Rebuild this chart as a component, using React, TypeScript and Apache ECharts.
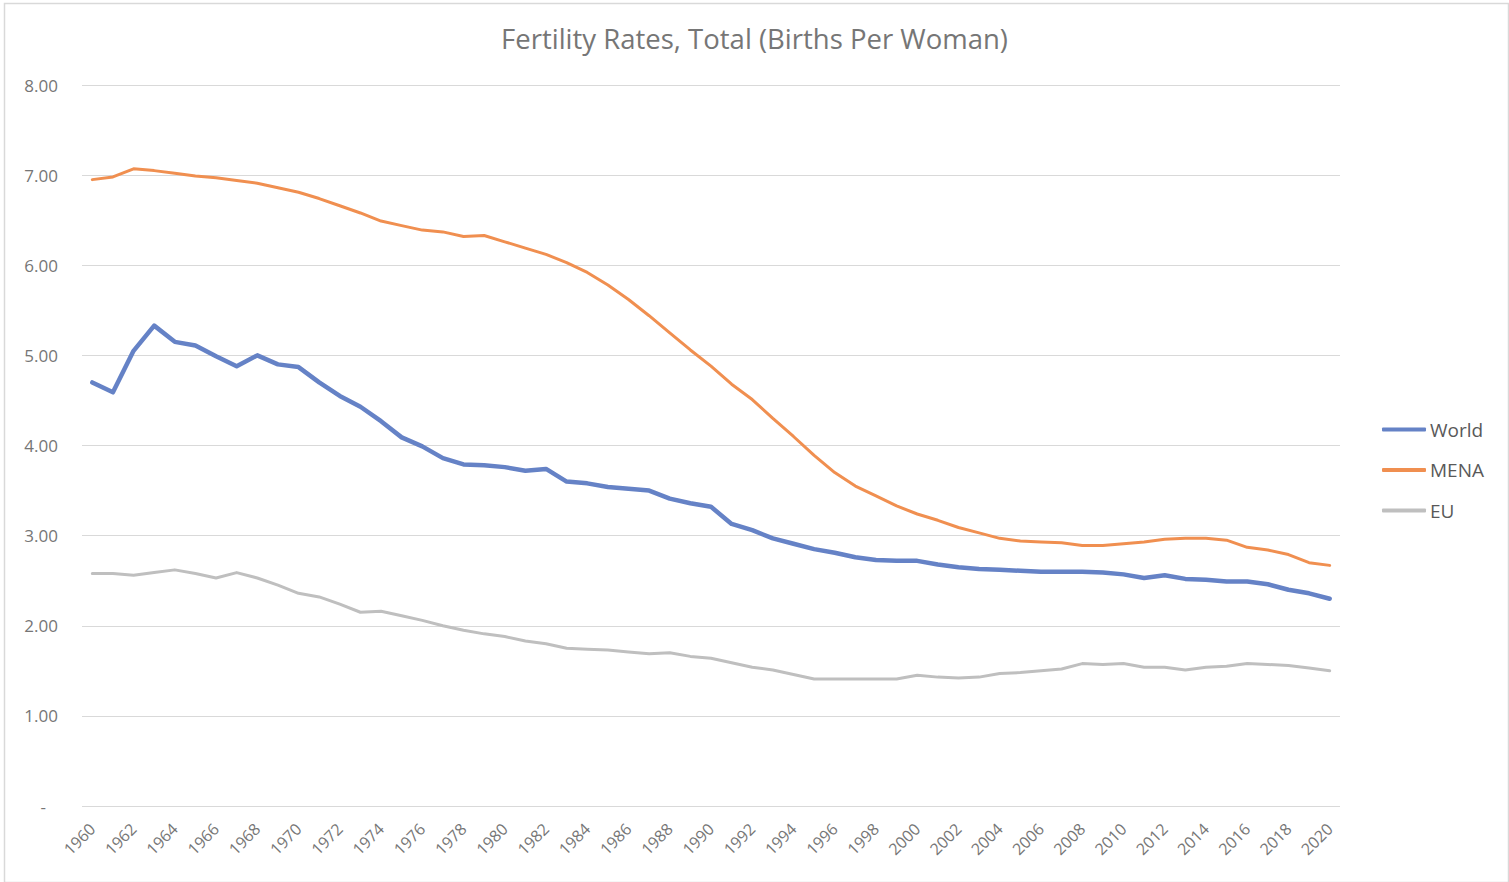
import React, { useEffect, useRef } from "react";
import * as echarts from "echarts";

const years: string[] = [];
for (let y = 1960; y <= 2020; y++) years.push(String(y));

const titleText = "Fertility Rates, Total (Births Per Woman)";
const seriesNames = ["World", "MENA", "EU"];

const world = [
  4.70, 4.59, 5.05, 5.33, 5.15, 5.11, 4.99, 4.88, 5.00, 4.90, 4.87,
  4.70, 4.55, 4.43, 4.27, 4.09, 3.99, 3.86, 3.79, 3.78, 3.76,
  3.72, 3.74, 3.60, 3.58, 3.54, 3.52, 3.50, 3.41, 3.36, 3.32,
  3.13, 3.06, 2.97, 2.91, 2.85, 2.81, 2.76, 2.73, 2.72, 2.72,
  2.68, 2.65, 2.63, 2.62, 2.61, 2.60, 2.60, 2.60, 2.59, 2.57,
  2.53, 2.56, 2.52, 2.51, 2.49, 2.49, 2.46, 2.40, 2.36, 2.30,
];

const mena = [
  6.95, 6.98, 7.07, 7.05, 7.02, 6.99, 6.97, 6.94, 6.91, 6.86, 6.81,
  6.74, 6.66, 6.58, 6.49, 6.44, 6.39, 6.37, 6.32, 6.33, 6.26,
  6.19, 6.12, 6.03, 5.92, 5.78, 5.62, 5.44, 5.25, 5.06, 4.88,
  4.68, 4.51, 4.30, 4.10, 3.89, 3.70, 3.55, 3.44, 3.33, 3.24,
  3.17, 3.09, 3.03, 2.97, 2.94, 2.93, 2.92, 2.89, 2.89, 2.91,
  2.93, 2.96, 2.97, 2.97, 2.95, 2.87, 2.84, 2.79, 2.70, 2.67,
];

const eu = [
  2.58, 2.58, 2.56, 2.59, 2.62, 2.58, 2.53, 2.59, 2.53, 2.45, 2.36,
  2.32, 2.24, 2.15, 2.16, 2.11, 2.06, 2.00, 1.95, 1.91, 1.88,
  1.83, 1.80, 1.75, 1.74, 1.73, 1.71, 1.69, 1.70, 1.66, 1.64,
  1.59, 1.54, 1.51, 1.46, 1.41, 1.41, 1.41, 1.41, 1.41, 1.45,
  1.43, 1.42, 1.43, 1.47, 1.48, 1.50, 1.52, 1.58, 1.57, 1.58,
  1.54, 1.54, 1.51, 1.54, 1.55, 1.58, 1.57, 1.56, 1.53, 1.50,
];

const colors = ["#6582C6", "#F08F50", "#BFBFBF"];
const widths = [4.5, 3, 3];
const FONT = "'Open Sans', 'Noto Sans', sans-serif";

export default function App() {
  const ref = useRef<HTMLDivElement>(null);
  useEffect(() => {
    document.body.style.margin = "0";
    const chart = echarts.init(ref.current!, null, { renderer: "svg" });
    const data = [world, mena, eu];
    chart.setOption({
      animation: false,
      backgroundColor: "#ffffff",
      textStyle: { fontFamily: FONT },
      title: {
        text: titleText,
        left: "center",
        top: 19,
        textStyle: { fontFamily: FONT, fontSize: 27.5, fontWeight: "normal", color: "#767676" },
      },
      graphic: [
        {
          type: "rect",
          left: 2,
          top: 1,
          shape: { width: 1504, height: 879 },
          style: { fill: "none", stroke: "#d9d9d9", lineWidth: 1.5 },
          silent: true,
        },
      ],
      legend: {
        orient: "vertical",
        left: 1377,
        top: 415,
        icon: "roundRect",
        itemWidth: 44,
        itemHeight: 4,
        itemGap: 21.5,
        data: seriesNames,
        textStyle: { fontFamily: FONT, fontSize: 19, color: "#595959", padding: [0, 0, 0, -1] },
      },
      grid: { left: 82, right: 169, top: 85, bottom: 76, containLabel: false },
      xAxis: {
        type: "category",
        data: years,
        boundaryGap: true,
        axisLine: { show: false },
        axisTick: { show: false },
        axisLabel: {
          interval: 1,
          rotate: 45,
          margin: 20,
          fontSize: 16,
          color: "#767676",
          fontFamily: FONT,
        },
      },
      yAxis: {
        type: "value",
        min: 0,
        max: 8,
        interval: 1,
        axisLine: { show: false },
        axisTick: { show: false },
        splitLine: { lineStyle: { color: "#d9d9d9", width: 1 } },
        axisLabel: {
          margin: 24,
          fontSize: 17,
          color: "#767676",
          fontFamily: FONT,
          formatter: (v: number) => (v === 0 ? "{d|-}" : v.toFixed(2)),
          rich: { d: { fontSize: 17, color: "#767676", padding: [0, 12, 0, 0] } },
        },
      },
      series: seriesNames.map((name, i) => ({
        name,
        type: "line",
        data: data[i],
        symbol: "none",
        smooth: false,
        color: colors[i],
        lineStyle: { color: colors[i], width: widths[i], cap: "round", join: "round" },
        z: 3 - i,
      })),
    });
    return () => chart.dispose();
  }, []);
  return <div ref={ref} style={{ width: 1509, height: 882 }} />;
}
